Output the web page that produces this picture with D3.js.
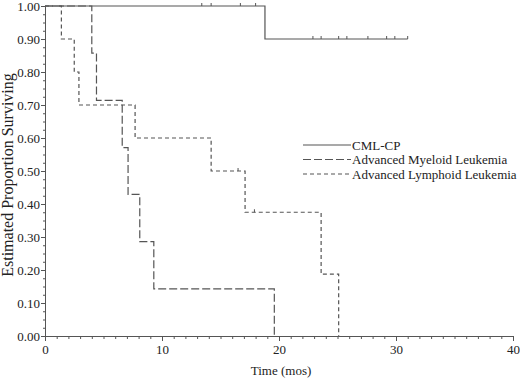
<!DOCTYPE html>
<html><head><meta charset="utf-8">
<script src="https://cdn.jsdelivr.net/npm/d3@7"></script>
<style>body{margin:0;background:#fff;} text{font-family:"Liberation Serif","Times New Roman",serif;fill:#222;}</style>
</head><body>
<svg id="c" width="520" height="380"></svg>
<script>
// Kaplan-Meier step data: [time, survival after this time]
const cmlSteps = [[0,1.0],[18.8,0.90],[31.0,0.90]];
const cmlCensor = [[13.4,1.0],[14.2,1.0],[16.7,1.0],[18.0,1.0],[22.9,0.9],[23.6,0.9],[25.1,0.9],[25.8,0.9],[27.6,0.9],[29.2,0.9],[29.9,0.9],[31.0,0.9]];
const myeloidSteps = [[0,1.0],[4.0,0.857],[4.4,0.714],[6.6,0.571],[7.1,0.429],[8.1,0.286],[9.3,0.143],[19.6,0.0]];
const lymphoidSteps = [[0,1.0],[1.4,0.90],[2.5,0.80],[2.9,0.70],[7.7,0.60],[14.2,0.50],[17.1,0.375],[23.6,0.1875],[25.1,0.0]];
const lymphoidCensor = [[16.5,0.50],[17.9,0.375]];
const xTicks = [0,10,20,30,40];
const yTicks = [0,0.1,0.2,0.3,0.4,0.5,0.6,0.7,0.8,0.9,1.0];
const seriesNames = ["CML-CP","Advanced Myeloid Leukemia","Advanced Lymphoid Leukemia"];

const svg = d3.select("#c");
const x = d3.scaleLinear().domain([0,40]).range([45,513]);
const y = d3.scaleLinear().domain([0,1]).range([336,6]);
const col = "#555";

// Axes
const xMinor = d3.range(0,41,1);
const yMinor = d3.range(0,1.0001,0.025);
const gx = svg.append("g").attr("transform","translate(0,336)");
gx.call(d3.axisBottom(x).tickValues(xMinor).tickSize(3).tickFormat(""));
const gx2 = svg.append("g").attr("transform","translate(0,336)");
gx2.call(d3.axisBottom(x).tickValues(xTicks).tickSize(5).tickSizeOuter(0).tickFormat(d3.format("d")));
gx2.selectAll("text").attr("font-size",13).attr("y",9).attr("dy","0.71em").attr("fill","#222");

const gy = svg.append("g").attr("transform","translate(45,0)");
gy.call(d3.axisLeft(y).tickValues(yMinor).tickSize(2).tickFormat("").tickSizeOuter(0));
const gy2 = svg.append("g").attr("transform","translate(45,0)");
gy2.call(d3.axisLeft(y).tickValues(yTicks).tickSize(4).tickSizeOuter(0).tickFormat(d3.format(".2f")));
gy2.selectAll("text").attr("font-size",13).attr("fill","#222").attr("x",-5);
svg.selectAll(".domain").attr("stroke",col);
svg.selectAll(".tick line").attr("stroke",col);
svg.selectAll("g").attr("font-family",null);

// Step lines
const stepLine = d3.line().x(d=>x(d[0])).y(d=>y(d[1])).curve(d3.curveStepAfter);
function addSteps(data, dash){
  svg.append("path").datum(data).attr("d",stepLine).attr("fill","none")
    .attr("stroke",col).attr("stroke-width",1.2).attr("stroke-dasharray",dash);
}
addSteps(cmlSteps,null);
addSteps(myeloidSteps,"8,3");
addSteps(lymphoidSteps,"4,3");

function addCensor(data){
  svg.append("g").selectAll("line").data(data).join("line")
    .attr("x1",d=>x(d[0])).attr("x2",d=>x(d[0]))
    .attr("y1",d=>y(d[1])-3).attr("y2",d=>y(d[1]))
    .attr("stroke",col).attr("stroke-width",1);
}
addCensor(cmlCensor);
addCensor(lymphoidCensor);

// Legend
const dashes = [null,"8,3","4,3"];
const lg = svg.append("g");
seriesNames.forEach((n,i)=>{
  const yy = 145 + i*14.5;
  lg.append("line").attr("x1",303).attr("x2",351).attr("y1",yy).attr("y2",yy)
    .attr("stroke",col).attr("stroke-width",1.2).attr("stroke-dasharray",dashes[i]);
  lg.append("text").attr("x",352).attr("y",yy).attr("dy","0.35em").attr("font-size",13).text(n);
});

// Axis titles
svg.append("text").attr("x",281).attr("y",375).attr("text-anchor","middle").attr("font-size",13).text("Time (mos)");
svg.append("text").attr("transform","translate(13,175) rotate(-90)").attr("text-anchor","middle").attr("font-size",16).text("Estimated Proportion Surviving");
</script>
</body></html>
